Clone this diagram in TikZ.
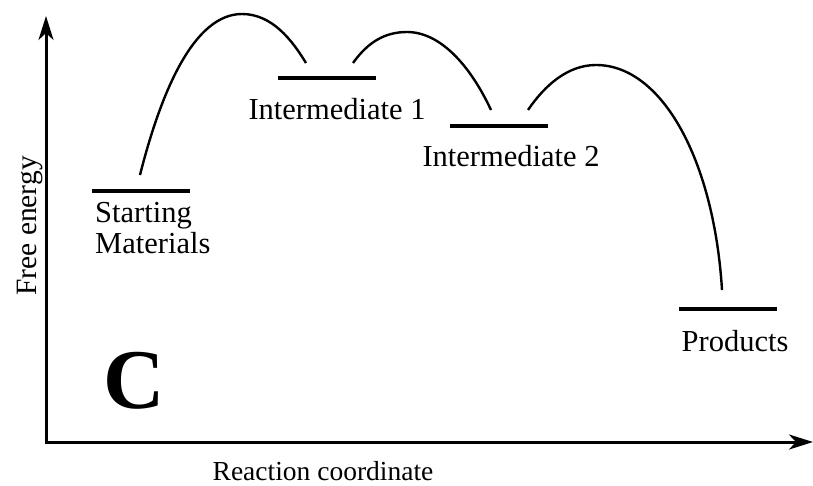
\documentclass[tikz,border=0pt]{standalone}
\usepackage{fontspec}
\setmainfont{Liberation Serif}
\usetikzlibrary{arrows.meta}
\begin{document}
\begin{tikzpicture}[x=1pt,y=-1pt,
  axis/.style={line width=3pt,-{Stealth[length=24pt,width=15pt,inset=7pt]}},
  level/.style={line width=3.4pt},
  curve/.style={line width=2.4pt},
  lbl/.style={font=\fontsize{30.5}{31}\selectfont,inner sep=0pt}]
\useasboundingbox (0,0) rectangle (813,485);
% axes
\coordinate (O) at (46,442);
\coordinate (Ytop) at (46,16);
\coordinate (Xend) at (813,442);
\draw[axis] (O) -- (Ytop);
\draw[axis] ([xshift=-1.5pt]O) -- (Xend);
% levels
\draw[level] (92,191) coordinate (sm1) -- (190,191) coordinate (sm2);
\draw[level] (278,78) coordinate (i11) -- (376,78) coordinate (i12);
\draw[level] (450,126) coordinate (i21) -- (548,126) coordinate (i22);
\draw[level] (679,309) coordinate (p1) -- (777,309) coordinate (p2);
% curves
\coordinate (c1s) at (140,175);
\coordinate (c1p) at (242,14);
\coordinate (c1e) at (306,63);
\coordinate (c2s) at (353,63);
\coordinate (c2p) at (407,32);
\coordinate (c2e) at (491,110);
\coordinate (c3s) at (528,110);
\coordinate (c3p) at (596,65);
\coordinate (c3e) at (722,290);
\draw[curve] (c1s) .. controls (162,88) and (195,14) .. (c1p)
  .. controls (272,14) and (292,40) .. (c1e);
\draw[curve] (c2s) .. controls (368,42) and (385,32) .. (c2p)
  .. controls (440,32) and (470,65) .. (c2e);
\draw[curve] (c3s) .. controls (545,85) and (568,65) .. (c3p)
  .. controls (662,65) and (714,160) .. (c3e);
% labels
\node[lbl,anchor=base west,align=left] (smlbl) at (95,253) {Starting\\Materials};
\node[lbl,anchor=base] (i1lbl) at (337,119) {Intermediate 1};
\node[lbl,anchor=base] (i2lbl) at (511,166) {Intermediate 2};
\node[lbl,anchor=base] (plbl) at (735,351) {Products};
\node[lbl,anchor=base,font=\fontsize{27.5}{30}\selectfont] (xlbl) at (323,480) {Reaction coordinate};
\node[lbl,anchor=base,rotate=90,font=\fontsize{29.5}{30}\selectfont] (ylbl) at (36,226) {Free energy};
\node[font=\fontsize{85}{90}\selectfont\bfseries,inner sep=0pt,anchor=base] (C) at (134,408) {C};
\end{tikzpicture}
\end{document}
